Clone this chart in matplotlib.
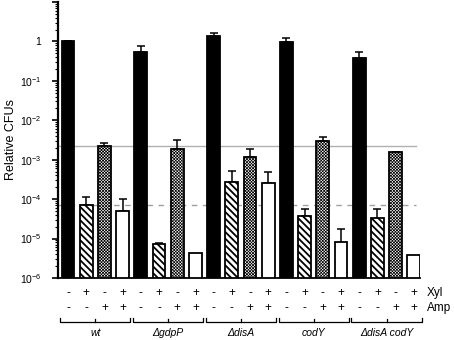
import numpy as np
import matplotlib
matplotlib.use("Agg")
import matplotlib.pyplot as plt
import matplotlib.transforms as mtransforms
from matplotlib.ticker import LogLocator, NullFormatter

plt.rcParams['font.family'] = ['Liberation Sans', 'DejaVu Sans']
plt.rcParams['mathtext.fontset'] = 'custom'
plt.rcParams['mathtext.rm'] = 'Liberation Sans'
plt.rcParams['mathtext.default'] = 'regular'

# strains and conditions
strains = ['wt', 'ΔgdpP', 'ΔdisA', 'codY', 'ΔdisA codY']
xyl = ['-', '+', '-', '+']
amp = ['-', '-', '+', '+']

# values per strain: [none, Xyl, Amp, Xyl+Amp]
means = [
    [1.0, 7.0e-5, 2.2e-3, 5.0e-5],
    [0.54, 6.4e-6, 1.9e-3, 3.4e-6],
    [1.36, 2.7e-4, 1.2e-3, 2.5e-4],
    [0.95, 3.7e-5, 2.9e-3, 7.4e-6],
    [0.39, 3.2e-5, 1.55e-3, 2.9e-6],
]
# top of the error bars
tops = [
    [1.03, 1.15e-4, 2.6e-3, 1.0e-4],
    [0.76, 7.9e-6, 3.2e-3, 3.9e-6],
    [1.62, 5.1e-4, 1.9e-3, 5.0e-4],
    [1.2, 5.7e-5, 3.8e-3, 1.8e-5],
    [0.53, 5.7e-5, 1.6e-3, 3.2e-6],
]
solid_ref = 2.2e-3
dashed_ref = 7.0e-5

fig = plt.figure(figsize=(4.54, 3.4), dpi=100)
ax = fig.add_axes([58/454, 62/340, 362/454, 276/340])

styles = [
    dict(facecolor='black', hatch=None, lw=1.0),
    dict(facecolor='white', hatch='\\' * 5, lw=1.3),
    dict(facecolor='white', hatch='x' * 11, lw=0.5),
    dict(facecolor='white', hatch=None, lw=1.0),
]

m = np.array(means)
t = np.array(tops)
for j, st in enumerate(styles):
    xs = np.arange(len(strains)) * 4 + j
    with plt.rc_context({'hatch.linewidth': st['lw']}):
        ax.bar(xs, m[:, j], width=0.7, bottom=1e-6, facecolor=st['facecolor'],
               edgecolor='black', linewidth=1.3, hatch=st['hatch'], zorder=3)
    ax.errorbar(xs, m[:, j], yerr=[np.zeros(len(xs)), t[:, j] - m[:, j]],
                fmt='none', ecolor='black', elinewidth=1.1, capsize=3,
                capthick=1.1, zorder=2)

ax.plot([-0.55, 19.1], [solid_ref, solid_ref], color='#b0b0b0', lw=1.0, zorder=1)
ax.plot([-0.55, 19.1], [dashed_ref, dashed_ref], color='#a0a0a0', lw=1.0,
        dashes=(4, 4), zorder=1)

ax.set_yscale('log')
ax.set_ylim(1e-6, 10)
ax.set_xlim(-0.55, 19.34)
ax.set_yticks([1e-6, 1e-5, 1e-4, 1e-3, 1e-2, 1e-1, 1, 10])
ax.set_yticklabels(['10$^{-6}$', '10$^{-5}$', '10$^{-4}$', '10$^{-3}$',
                    '10$^{-2}$', '10$^{-1}$', '1', ''], fontsize=7.5)
ax.yaxis.set_minor_locator(LogLocator(base=10, subs=np.arange(2, 10), numticks=20))
ax.yaxis.set_minor_formatter(NullFormatter())
ax.tick_params(axis='y', which='major', length=4, width=1.2, pad=8)
ax.tick_params(axis='y', which='minor', length=2.5, width=0.8)
ax.set_xticks([])
for s in ['top', 'right']:
    ax.spines[s].set_visible(False)
ax.spines['left'].set_linewidth(1.6)
ax.spines['bottom'].set_linewidth(1.3)
ax.set_ylabel('Relative CFUs', fontsize=9, labelpad=2)

trans = mtransforms.blended_transform_factory(ax.transData, ax.transAxes)
for g, name in enumerate(strains):
    for j in range(4):
        x = g * 4 + j
        ax.text(x, -0.054, xyl[j], ha='center', va='center', fontsize=8.5,
                transform=trans, clip_on=False)
        ax.text(x, -0.109, amp[j], ha='center', va='center', fontsize=8.5,
                transform=trans, clip_on=False)
    c = g * 4 + 1.5
    x0, x1 = c - 1.93, c + 1.93
    ax.plot([x0, x0, x1, x1], [-0.145, -0.160, -0.160, -0.145], color='black',
            lw=0.9, transform=trans, clip_on=False)
    ax.plot([c, c], [-0.160, -0.148], color='black', lw=0.9,
            transform=trans, clip_on=False)
    ax.text(c, -0.199, name, ha='center', va='center', fontsize=7.5,
            style='italic', transform=trans, clip_on=False)

ax.text(19.7, -0.054, 'Xyl', ha='left', va='center', fontsize=8.5,
        transform=trans, clip_on=False)
ax.text(19.7, -0.109, 'Amp', ha='left', va='center', fontsize=8.5,
        transform=trans, clip_on=False)

fig.savefig('out.png', dpi=100)
